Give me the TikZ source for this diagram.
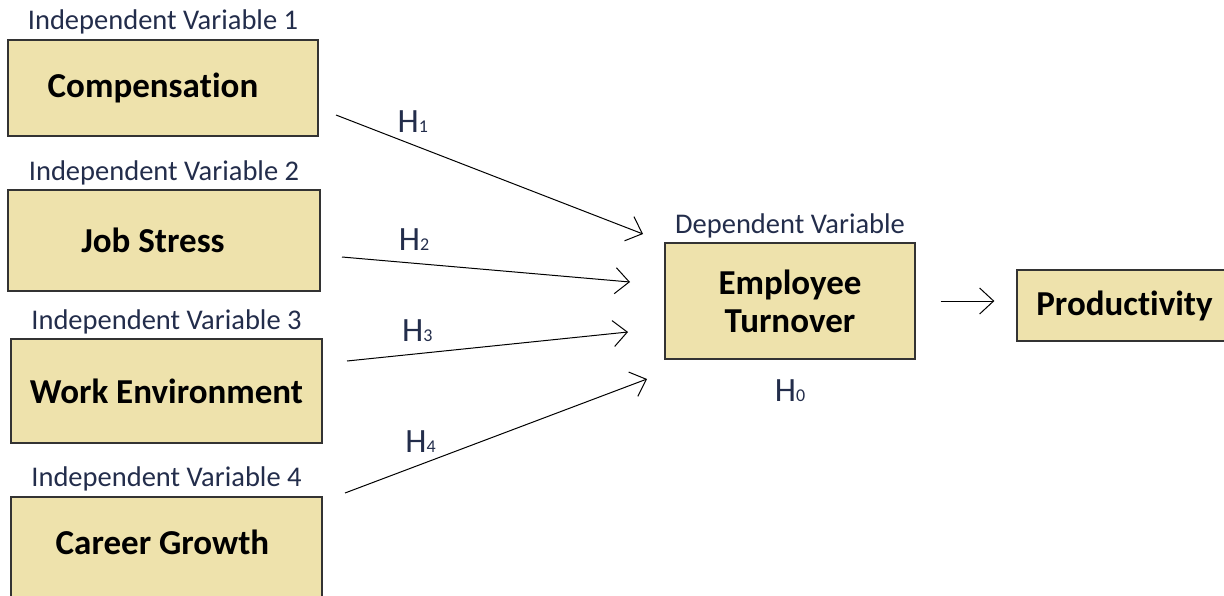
\documentclass[tikz,border=0pt]{standalone}
\usepackage{fontspec}
\setmainfont{Carlito}[RawFeature={-liga;-clig;-dlig;-calt;-rlig}]
\usepackage{tikz}
\usetikzlibrary{positioning,arrows.meta}
\definecolor{boxTan}{RGB}{238,226,172}
\definecolor{labelNavy}{RGB}{35,45,75}
\colorlet{boxLine}{black!80}
\newcommand{\hyp}[1]{H{\fontsize{18}{18}\selectfont #1}}

\begin{document}
\begin{tikzpicture}[x=1pt, y=-1pt,
        var/.style={draw=boxLine, line width=1.3pt, fill=boxTan, align=center, inner sep=0pt,
            font=\fontsize{35}{38}\selectfont\bfseries},
        varlabel/.style={font=\fontsize{28.5}{30}\selectfont, text=labelNavy, inner sep=0pt},
        hyplabel/.style={font=\fontsize{34}{34}\selectfont, text=labelNavy, inner sep=0pt},
        link/.style={-{Straight Barb[length=14pt, width=26pt]}, line width=1pt}]
        \useasboundingbox (0,0) rectangle (1224,595);
        \clip (0,0) rectangle (1224,595);

        \node[var, minimum width=310pt, minimum height=96pt] (comp) at (163,88) {Compensa\kern0pt tion\hspace*{20pt}};
        \node[var, minimum width=312pt, minimum height=101pt] (stress) at (164,240.5) {Job Stress\hspace*{22pt}};
        \node[var, minimum width=311pt, minimum height=104pt] (environ) at (166.5,391) {Work Environment};
        \node[var, minimum width=311pt, minimum height=110pt, text depth=20pt] (growth) at (166.5,552) {Career Growth\hspace*{8pt}};
        \node[var, minimum width=250pt, minimum height=116pt] (turnover) at (790,301) {Employee\\Turnover};
        \node[var, minimum width=215pt, minimum height=71pt] (product) at (1124.5,305.5) {Produc\kern0pt tivity};

        \node[varlabel, above=5pt of comp] (comp-lab) {Independent Variable 1};
        \node[varlabel, above=4pt of stress] (stress-lab) {Independent Variable 2};
        \node[varlabel, above=4pt of environ] (environ-lab) {Independent Variable 3};
        \node[varlabel, above=5pt of growth] (growth-lab) {Independent Variable 4};
        \node[varlabel, above=4pt of turnover] (turnover-lab) {Dependent Variable};
        \node[hyplabel, below=20pt of turnover] (h0) {\hyp{0}};

        \coordinate (s1) at (336,115);
        \coordinate (e1) at (643,234);
        \coordinate (s2) at (342,257);
        \coordinate (e2) at (630,282);
        \coordinate (s3) at (347,361);
        \coordinate (e3) at (628,332);
        \coordinate (s4) at (345,493);
        \coordinate (e4) at (647,379);

        \draw[link] (s1) -- node[hyplabel, pos=0.25, above=12pt] (h1) {\hyp{1}} (e1);
        \draw[link] (s2) -- node[hyplabel, pos=0.25, above=12pt] (h2) {\hyp{2}} (e2);
        \draw[link] (s3) -- node[hyplabel, pos=0.25, above=12pt] (h3) {\hyp{3}} (e3);
        \draw[link] (s4) -- node[hyplabel, pos=0.25, above=12pt] (h4) {\hyp{4}} (e4);
        \draw[link, shorten <=25pt, shorten >=22pt] (turnover.east) -- (turnover.east -| product.west);
    \end{tikzpicture}
\end{document}
